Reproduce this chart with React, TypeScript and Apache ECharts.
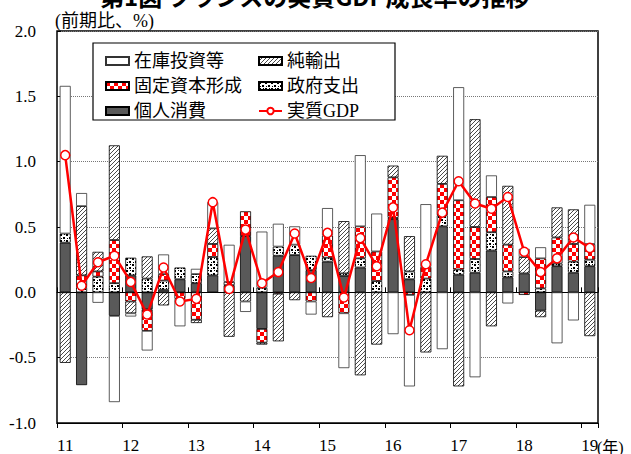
import React, { useEffect, useRef } from 'react';
import * as echarts from 'echarts';

const quarters = [
  '2011Q1', '2011Q2', '2011Q3', '2011Q4',
  '2012Q1', '2012Q2', '2012Q3', '2012Q4',
  '2013Q1', '2013Q2', '2013Q3', '2013Q4',
  '2014Q1', '2014Q2', '2014Q3', '2014Q4',
  '2015Q1', '2015Q2', '2015Q3', '2015Q4',
  '2016Q1', '2016Q2', '2016Q3', '2016Q4',
  '2017Q1', '2017Q2', '2017Q3', '2017Q4',
  '2018Q1', '2018Q2', '2018Q3', '2018Q4',
  '2019Q1',
];

// 個人消費
const consumption = [
  0.38, -0.71, 0.0, -0.18,
  0.13, -0.13, 0.02, 0.10,
  0.07, 0.13, 0.055, 0.43,
  -0.28, 0.28, 0.285, 0.17,
  0.235, 0.125, 0.19, 0.0,
  0.56, 0.10, 0.0, 0.505,
  0.135, 0.15, 0.32, 0.115,
  0.145, -0.14, 0.20, 0.15,
  0.20,
];
// 政府支出
const government = [
  0.07, 0.04, 0.12, 0.07,
  0.135, 0.105, 0.07, 0.09,
  0.07, 0.14, 0.025, 0.0,
  0.035, 0.07, 0.08, 0.11,
  0.03, 0.02, 0.07, 0.086,
  0.01, 0.06, 0.105, 0.085,
  0.04, 0.105, 0.14, 0.045,
  0.0, 0.03, 0.02, 0.085,
  0.05,
];
// 固定資本形成
const fixedCapital = [
  0.0, 0.09, 0.04, 0.33,
  -0.07, -0.165, 0.05, -0.05,
  -0.21, 0.10, 0.0, 0.19,
  -0.105, -0.01, 0.0, -0.07,
  0.17, -0.16, 0.245, 0.227,
  0.31, -0.02, 0.09, 0.24,
  0.53, 0.245, 0.27, 0.205,
  -0.02, 0.23, 0.20, 0.135,
  0.12,
];
// 純輸出
const netExports = [
  -0.54, 0.53, 0.15, 0.725,
  -0.09, 0.17, -0.10, 0.0,
  -0.025, 0.12, -0.34, -0.07,
  -0.015, -0.365, -0.06, 0.0,
  -0.19, 0.40, -0.635, -0.40,
  0.09, 0.27, -0.46, 0.215,
  -0.72, 0.825, -0.26, 0.45,
  0.125, -0.05, 0.23, 0.265,
  -0.335,
];
// 在庫投資等
const inventories = [
  1.13, 0.10, -0.08, -0.66,
  -0.025, -0.15, 0.15, -0.21,
  0.04, 0.20, 0.284, -0.08,
  0.43, 0.175, 0.14, -0.10,
  0.21, -0.42, 0.545, 0.29,
  -0.32, -0.70, 0.48, -0.435,
  0.865, -0.65, 0.165, -0.085,
  0.063, 0.085, -0.39, -0.215,
  0.30,
];
// 実質GDP
const realGdp = [
  1.05, 0.05, 0.23, 0.28,
  0.08, -0.17, 0.19, -0.07,
  -0.05, 0.69, 0.025, 0.48,
  0.07, 0.155, 0.45, 0.11,
  0.455, -0.04, 0.415, 0.20,
  0.65, -0.29, 0.215, 0.61,
  0.85, 0.68, 0.64, 0.73,
  0.31, 0.155, 0.26, 0.42,
  0.34,
];

const legendLeft = ['在庫投資等', '固定資本形成', '個人消費'];
const legendRight = ['純輸出', '政府支出', '実質GDP'];

const FONT = "'Liberation Serif', 'Noto Sans CJK JP', serif";

function makeTile(w: number, h: number, draw: (ctx: CanvasRenderingContext2D) => void) {
  const c = document.createElement('canvas');
  c.width = w;
  c.height = h;
  const ctx = c.getContext('2d') as CanvasRenderingContext2D;
  draw(ctx);
  return { image: c, repeat: 'repeat', imageWidth: w, imageHeight: h } as any;
}

function checkerPattern() {
  return makeTile(8, 8, (ctx) => {
    ctx.fillStyle = '#ffffff';
    ctx.fillRect(0, 0, 8, 8);
    ctx.fillStyle = '#ff0000';
    ctx.fillRect(0, 0, 4, 4);
    ctx.fillRect(4, 4, 4, 4);
  });
}

function hatchPattern() {
  return makeTile(4, 4, (ctx) => {
    ctx.fillStyle = '#ffffff';
    ctx.fillRect(0, 0, 4, 4);
    ctx.fillStyle = '#4a4a4a';
    ctx.fillRect(0, 3, 1, 1);
    ctx.fillRect(1, 2, 1, 1);
    ctx.fillRect(2, 1, 1, 1);
    ctx.fillRect(3, 0, 1, 1);
  });
}

function dotPattern() {
  return makeTile(6, 6, (ctx) => {
    ctx.fillStyle = '#ffffff';
    ctx.fillRect(0, 0, 6, 6);
    ctx.fillStyle = '#000000';
    ctx.fillRect(0, 0, 2, 2);
    ctx.fillRect(3, 3, 2, 2);
    ctx.fillRect(4, 0, 1, 1);
    ctx.fillRect(1, 4, 1, 1);
  });
}

const nz = (arr: number[]) => arr.map((v) => (v === 0 ? null : v));

export default function App() {
  const ref = useRef<HTMLDivElement>(null);

  useEffect(() => {
    if (!ref.current) return;
    const chart = echarts.init(ref.current, undefined, { renderer: 'svg' });

    const barBase = {
      type: 'bar',
      stack: 'total',
      barWidth: 11,
      z: 2,
    };

    const legendText = { fontSize: 18, fontFamily: FONT, color: '#000' };

    const option: any = {
      animation: false,
      backgroundColor: '#ffffff',
      grid: {
        left: 57,
        right: 33,
        top: 31,
        bottom: 28,
        show: true,
        borderColor: '#000',
        borderWidth: 1.5,
        backgroundColor: 'transparent',
      },
      legend: [
        {
          data: legendLeft.map((n) => ({ name: n, icon: 'rect' })),
          orient: 'vertical',
          left: 100,
          top: 47,
          itemGap: 7,
          itemWidth: 23,
          itemHeight: 8,
          selectedMode: false,
          z: 6,
          textStyle: legendText,
        },
        {
          data: legendRight.map((n) => (n === '実質GDP' ? { name: n } : { name: n, icon: 'rect' })),
          orient: 'vertical',
          left: 253,
          top: 47,
          itemGap: 7,
          itemWidth: 23,
          itemHeight: 8,
          selectedMode: false,
          z: 6,
          textStyle: legendText,
        },
      ],
      graphic: [
        {
          type: 'text',
          left: 100,
          top: -17,
          z: 10,
          style: {
            text: '第1図 フランスの実質GDP成長率の推移',
            fontSize: 24,
            fontWeight: 'bold',
            fontFamily: "'Noto Sans CJK JP', sans-serif",
            fill: '#000',
          },
        },
        {
          type: 'text',
          left: 55,
          top: 12,
          z: 10,
          style: {
            text: '(前期比、%)',
            fontSize: 18,
            fontFamily: FONT,
            fill: '#000',
          },
        },
        {
          type: 'text',
          left: 597,
          top: 439,
          z: 10,
          style: {
            text: '(年)',
            fontSize: 16,
            fontFamily: FONT,
            fill: '#000',
          },
        },
        {
          type: 'rect',
          shape: { x: 93, y: 43, width: 302, height: 77 },
          z: 5,
          style: { fill: '#ffffff', stroke: '#000', lineWidth: 1.2 },
        },
      ],
      xAxis: [
        {
          type: 'category',
          data: quarters,
          position: 'bottom',
          axisLine: { show: false, onZero: false },
          axisTick: { show: false },
          splitLine: { show: false },
          axisLabel: {
            interval: 3,
            formatter: (v: string) => v.slice(2, 4),
            fontSize: 17,
            fontFamily: FONT,
            color: '#000',
            margin: 14,
          },
        },
        {
          type: 'category',
          data: quarters,
          position: 'top',
          axisLine: { show: true, onZero: true, lineStyle: { color: '#000', width: 1 } },
          axisTick: { show: true, interval: 3, length: 5, lineStyle: { color: '#000', width: 1 } },
          axisLabel: { show: false },
          splitLine: { show: false },
        },
        {
          type: 'category',
          data: quarters,
          position: 'bottom',
          axisLine: { show: true, onZero: true, lineStyle: { color: '#000', width: 1 } },
          axisTick: { show: true, interval: 3, length: 5, lineStyle: { color: '#000', width: 1 } },
          axisLabel: { show: false },
          splitLine: { show: false },
        },
      ],
      yAxis: {
        type: 'value',
        min: -1,
        max: 2,
        interval: 0.5,
        axisLine: { show: false },
        axisTick: { show: true, inside: true, length: 4, lineStyle: { color: '#000' } },
        axisLabel: {
          formatter: (v: number) => v.toFixed(1),
          fontSize: 17,
          fontFamily: FONT,
          color: '#000',
          margin: 21,
        },
        splitLine: { show: true, lineStyle: { type: 'dotted', color: '#777', width: 1 } },
      },
      series: [
        {
          ...barBase,
          name: '個人消費',
          data: nz(consumption),
          itemStyle: { color: '#595959', borderColor: '#000', borderWidth: 0.8 },
        },
        {
          ...barBase,
          name: '政府支出',
          data: nz(government),
          itemStyle: { color: dotPattern(), borderColor: '#000', borderWidth: 0.8 },
        },
        {
          ...barBase,
          name: '固定資本形成',
          data: nz(fixedCapital),
          itemStyle: { color: checkerPattern(), borderColor: '#000', borderWidth: 0.8 },
        },
        {
          ...barBase,
          name: '純輸出',
          data: nz(netExports),
          itemStyle: { color: hatchPattern(), borderColor: '#000', borderWidth: 0.8 },
        },
        {
          ...barBase,
          name: '在庫投資等',
          data: nz(inventories),
          itemStyle: { color: '#ffffff', borderColor: '#333', borderWidth: 0.8 },
        },
        {
          type: 'line',
          name: '実質GDP',
          data: realGdp,
          symbol: 'circle',
          symbolSize: 9,
          z: 10,
          itemStyle: { color: '#ff0000', borderColor: '#ff0000', borderWidth: 1.5 },
          lineStyle: { color: '#ff0000', width: 2.5 },
          emphasis: { disabled: true },
        },
      ],
    };

    chart.setOption(option);
    // white-filled markers on the GDP line
    chart.setOption({
      series: [{}, {}, {}, {}, {}, { itemStyle: { color: '#ffffff', borderColor: '#ff0000' } }],
    });
    return () => {
      chart.dispose();
    };
  }, []);

  return (
    <div
      ref={ref}
      style={{ position: 'fixed', left: 0, top: 0, width: 631, height: 454 }}
    />
  );
}
